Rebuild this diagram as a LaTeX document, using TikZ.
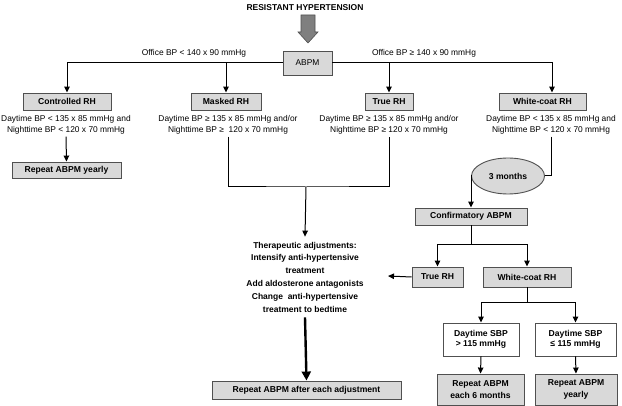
\documentclass[tikz,border=0pt]{standalone}
\usepackage{fontspec}
\setmainfont{Liberation Sans}
\usepackage{tikz}
\usetikzlibrary{arrows,arrows.meta,positioning,shapes,calc}

\definecolor{boxgray}{HTML}{D9D9D9}
\definecolor{boxline}{HTML}{505050}
\definecolor{arrowgray}{HTML}{7F7F7F}

\begin{document}
\begin{tikzpicture}[x=1pt,y=-1pt,>={Triangle[length=6pt,width=5.5pt]},
                box/.style={rectangle,draw=boxline,fill=boxgray,line width=0.9pt,inner sep=0pt,align=center,
                            font=\fontsize{8.6}{10.5}\selectfont\bfseries},
                cond/.style={align=center,inner sep=2pt,font=\fontsize{8.4}{11}\selectfont},
                link/.style={->,line width=1pt}]
            \useasboundingbox (0,0) rectangle (622,406);
            \node[font=\fontsize{8.5}{9.5}\selectfont\bfseries] (title) at (305,8) {RESISTANT HYPERTENSION};
            \draw[fill=arrowgray,draw=boxline,line width=0.6pt]
                (301,15) -- (315,15) -- (315,32) -- (318,32) -- (308,43) -- (298,32) -- (301,32) -- cycle;
            \node[box,font=\fontsize{8.4}{9.5}\selectfont,minimum width=49,minimum height=24] (abpm) at (307.5,63) {ABPM};
            % first split
            \node[cond] (officelo) at (194,53) {Office BP < 140 x 90 mmHg};
            \node[cond] (officehi) at (424,53) {Office BP ≥ 140 x 90 mmHg};
            \node[box,minimum width=88,minimum height=17] (ctrl) at (67,101.5) {Controlled RH};
            \node[box,minimum width=70,minimum height=17] (masked) at (226,101.5) {Masked RH};
            \node[box,minimum width=48,minimum height=17] (truerh) at (389,101.5) {True RH};
            \node[box,minimum width=87,minimum height=17] (wcoat) at (542.5,101.5) {White-coat RH};
            \node[cond] (ctrltxt) at (66,125) {Daytime BP < 135 x 85 mmHg and\\Nighttime BP < 120 x 70 mmHg};
            \node[cond] (masktxt) at (228,125) {Daytime BP ≥ 135 x 85 mmHg and/or\\Nighttime BP ≥ \ 120 x 70 mmHg};
            \node[cond] (truetxt) at (389,125) {Daytime BP ≥ 135 x 85 mmHg and/or\\Nighttime BP ≥ 120 x 70 mmHg};
            \node[cond] (wcoattxt) at (551,125) {Daytime BP < 135 x 85 mmHg and\\Nighttime BP < 120 x 70 mmHg};
            \draw[link] (abpm.west) -| (ctrl.north);
            \draw[link] (abpm.west) -| (masked.north);
            \draw[link] (abpm.east) -| (truerh.north);
            \draw[link] (abpm.east) -| ([xshift=9.5pt]wcoat.north);
            % controlled
            \node[box,minimum width=109,minimum height=16] (ctrlrep) at (66.5,170) {Repeat ABPM yearly};
            \draw[link] (ctrltxt.south) -- (ctrlrep.north);
            % masked and true
            \coordinate (join) at (306,187);
            \node[cond,inner sep=5pt,font=\fontsize{8.5}{12.8}\selectfont\bfseries] (therapy) at (305,277)
                {Therapeutic adjustments:\\Intensify anti-hypertensive\\treatment\\Add aldosterone antagonists\\
                 Change \ anti-hypertensive\\treatment to bedtime};
            \node[box,minimum width=189,minimum height=18] (adjrep) at (306.5,390) {Repeat ABPM after each adjustment};
            \draw[line width=1pt] (masktxt.south) |- (join) -| (truetxt.south);
            \draw[link] (join) -- (therapy.north);
            \draw[-{Triangle[length=9pt,width=9pt]},line width=2.4pt] (therapy.south) -- (adjrep.north);
            % white-coat
            \node[ellipse,draw=boxline,fill=boxgray,line width=0.9pt,inner sep=0pt,minimum width=73,minimum height=36,
                  font=\fontsize{8.6}{9.5}\selectfont\bfseries] (months) at (508,176) {3 months};
            \node[box,minimum width=112,minimum height=17] (confirm) at (471,216.5) {Confirmatory ABPM};
            \node[box,minimum width=51,minimum height=20] (true2) at (437.5,277) {True RH};
            \node[box,minimum width=88,minimum height=20] (wcoat2) at (527,277) {White-coat RH};
            \node[box,fill=white,minimum width=76,minimum height=33] (sbphi) at (481,339.5) {Daytime SBP\\> 115 mmHg};
            \node[box,fill=white,minimum width=81,minimum height=33] (sbplo) at (575.5,339.5) {Daytime SBP\\≤ 115 mmHg};
            \node[box,minimum width=87,minimum height=31] (rephi) at (480.5,389.5) {Repeat ABPM\\[1.5pt]each 6 months};
            \node[box,minimum width=82,minimum height=31] (replo) at (576,389.5) {Repeat ABPM\\[1.5pt]yearly};
            \coordinate (split1) at (471,245);
            \coordinate (split2) at (527,303);
            \coordinate (back) at (388,276);
            \draw[line width=1pt] (wcoattxt.south) |- (months.east);
            \draw[link] (months.west) -| (confirm.north);
            \draw[line width=1pt] (confirm.south) -- (split1);
            \draw[link] (split1) -| (true2.north);
            \draw[link] (split1) -| (wcoat2.north);
            \draw[link] (true2.west) -- (back);
            \draw[line width=1pt] (wcoat2.south) -- (split2);
            \draw[link] (split2) -| (sbphi.north);
            \draw[link] (split2) -| (sbplo.north);
            \draw[link] (sbphi.south) -- (rephi.north);
            \draw[link] (sbplo.south) -- (replo.north);
        \end{tikzpicture}
\end{document}
